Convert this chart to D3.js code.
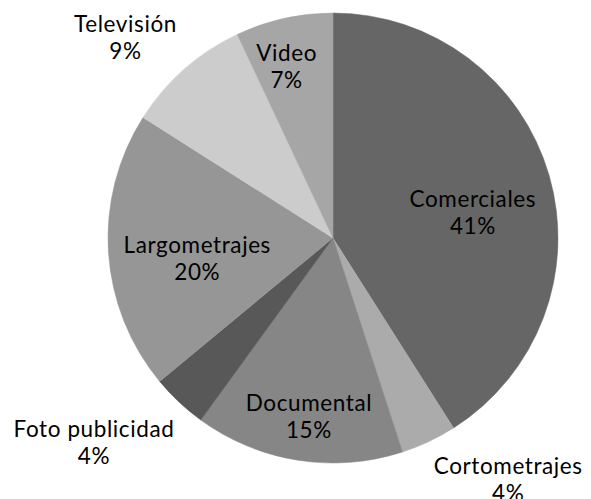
<!DOCTYPE html>
<html>
<head>
<meta charset="utf-8">
<script src="https://cdn.jsdelivr.net/npm/d3@7"></script>
<style>
  html, body { margin: 0; padding: 0; background: #fff; }
  svg { display: block; }
</style>
</head>
<body>
<svg id="chart" width="591" height="499"></svg>
<script>
// ---- data ----
const categories = ["Comerciales", "Cortometrajes", "Documental", "Foto publicidad", "Largometrajes", "Televisión", "Video"];
const values = [41, 4, 15, 4, 20, 9, 7];
const percentLabels = ["41%", "4%", "15%", "4%", "20%", "9%", "7%"];
const colors = ["#666666", "#ababab", "#868686", "#585858", "#969696", "#cccccc", "#a6a6a6"];

// ---- layout ----
const W = 591, H = 499;
const cx = 333, cy = 238, R = 225;
// label placement: radius (fraction of R) and angle shift (degrees) relative to slice middle
const labelPlace = [
  { r: 0.632, dA: 5.8 },
  { r: 1.325, dA: -10.8 },
  { r: 0.798, dA: -1.3 },
  { r: 1.397, dA: 6.3 },
  { r: 0.610, dA: -5.0 },
  { r: 1.282, dA: -4.6 },
  { r: 0.792, dA: -2.5 }
];
const lineGap = 27;
const fontSize = 22.5;

const svg = d3.select("#chart");
const g = svg.append("g").attr("transform", `translate(${cx},${cy})`);

const data = categories.map((c, i) => ({ cat: c, value: values[i], pct: percentLabels[i], color: colors[i], i }));

const pie = d3.pie().value(d => d.value).sort(null);
const arc = d3.arc().innerRadius(0).outerRadius(R);
const arcs = pie(data);

g.selectAll("path.slice")
  .data(arcs)
  .join("path")
  .attr("class", "slice")
  .attr("d", arc)
  .attr("fill", d => d.data.color)
  .attr("stroke", d => d.data.color)
  .attr("stroke-width", 0.5);

const labels = g.selectAll("g.lbl")
  .data(arcs)
  .join("g")
  .attr("class", "lbl")
  .attr("transform", d => {
    const p = labelPlace[d.data.i];
    const a = (d.startAngle + d.endAngle) / 2 + p.dA * Math.PI / 180;
    const r = p.r * R;
    return `translate(${r * Math.sin(a)},${-r * Math.cos(a)})`;
  });

labels.append("text")
  .attr("text-anchor", "middle")
  .attr("y", -5.25)
  .attr("font-family", "Lato, sans-serif")
  .attr("font-size", fontSize)
  .attr("letter-spacing", 0.6)
  .attr("fill", "#000")
  .text(d => d.data.cat);

labels.append("text")
  .attr("text-anchor", "middle")
  .attr("y", -5.25 + lineGap)
  .attr("font-family", "Lato, sans-serif")
  .attr("font-size", fontSize)
  .attr("letter-spacing", 0.6)
  .attr("fill", "#000")
  .text(d => d.data.pct);
</script>
</body>
</html>
